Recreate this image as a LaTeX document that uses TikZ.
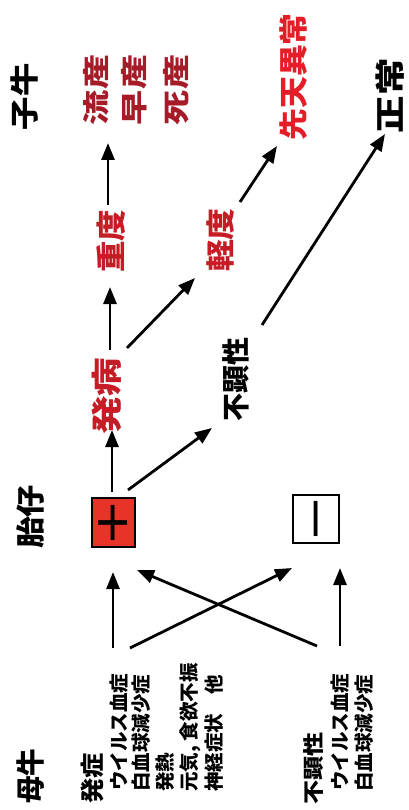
\documentclass[tikz,border=0pt]{standalone}
\usepackage{fontspec}
\usepackage{graphicx}
\usetikzlibrary{arrows.meta}
\newfontfamily\jp{Noto Sans CJK JP}
\newfontfamily\symf{DejaVu Sans}
\definecolor{dred}{RGB}{165,28,40}
\definecolor{bred}{RGB}{228,30,40}
\definecolor{mred}{RGB}{198,28,38}
\definecolor{boxred}{RGB}{232,52,40}
\newcommand{\fs}[1]{\fontsize{#1}{#1}\selectfont}
\newcommand{\hs}[2]{\scalebox{#1}[1]{#2}}
\begin{document}
\begin{tikzpicture}[x=1pt,y=-1pt,
  lbl/.style={rotate=90, inner sep=0pt, font=\jp\bfseries},
  sml/.style={lbl, anchor=west},
  arr/.style={line width=2.8pt, -{Triangle[length=17pt,width=13pt]}},
  signbox/.style={draw, line width=1.3pt, inner sep=0pt},
  ]
\useasboundingbox (0,0) rectangle (409,810);
\fill[white] (0,0) rectangle (409,810);

% column labels
\node[lbl] (kogyu) at (25,97) {\fs{29}\hs{1.15}{子牛}};
\node[lbl] (taishi) at (30,517) {\fs{29}\hs{1.1}{胎仔}};
\node[lbl] (bogyu) at (31,776) {\fs{29}\hs{0.95}{母牛}};

% outcomes
\node[lbl, text=dred] (ryuzan) at (96,90) {\fs{27}\hs{1.3}{流産}};
\node[lbl, text=dred] (sozan) at (134,90) {\fs{27}\hs{1.3}{早産}};
\node[lbl, text=dred] (shizan) at (176,90) {\fs{27}\hs{1.3}{死産}};
\node[lbl, text=bred] (senten) at (294,77) {\fs{29}\hs{1.1}{先天異常}};
\node[lbl] (seijo) at (390,96) {\fs{30}\hs{1.25}{正常}};

\node[lbl, text=mred] (judo) at (111,241) {\fs{30}\hs{1.05}{重度}};
\node[lbl, text=mred] (keido) at (221,240) {\fs{29}\hs{1.1}{軽度}};
\node[lbl, text=mred] (hatsubyo) at (107,396) {\fs{31}\hs{1.25}{発病}};
\node[lbl] (fuken) at (236,379) {\fs{28}\hs{1.0}{不顕性}};

% foetus boxes
\node[signbox, fill=boxred, minimum width=43pt, minimum height=49pt] (plus) at (113.5,522.5) {};
\node[signbox, fill=white, minimum width=46pt, minimum height=48pt] (minus) at (316,519) {};
\node[rotate=90, inner sep=0pt] (plussign) at (plus.center) {\symf\fs{46}\hs{1.22}{+}};
\node[rotate=90, inner sep=0pt, anchor=base] (minussign) at ([shift={(14,0)}]minus.center) {\symf\fs{46}\hs{1.22}{−}};

% mother symptoms
\node[sml] (m1) at (92.5,804) {\fs{24}\hs{1.05}{発症}};
\node[sml] (m2) at (119,791) {\fs{19.5}ウイルス血症};
\node[sml] (m3) at (141,792) {\fs{19.5}白血球減少症};
\node[sml] (m4) at (165.5,792) {\fs{19.5}発熱};
\node[sml] (m5) at (190,792) {\fs{19.5}元気, 食欲不振};
\node[sml] (m6) at (214,792) {\fs{19.5}神経症状　他};
\node[sml] (n1) at (314,805) {\fs{21}\hs{1.15}{不顕性}};
\node[sml] (n2) at (340,791) {\fs{19.5}ウイルス血症};
\node[sml] (n3) at (364,792) {\fs{19.5}白血球減少症};

% arrow tails on the mother side
\coordinate (t1) at (113,648);
\coordinate (t2) at (130,648);
\coordinate (t3) at (317,646);
\coordinate (t4) at (340,646);

\draw[arr] (t1) -- ([shift={(-0.5,49.5)}]plus.center);
\draw[arr] (t2) -- ([shift={(-24,49)}]minus.center);
\draw[arr] (t3) -- ([shift={(23.5,47.5)}]plus.center);
\draw[arr] (t4) -- ([shift={(24,49)}]minus.center);

\draw[arr] ([shift={(-1.5,-30.5)}]plus.center) -- ([shift={(5,34)}]hatsubyo.center);
\draw[arr] ([shift={(14.5,-32.5)}]plus.center) -- ([shift={(-24,49)}]fuken.center);
\draw[arr] ([shift={(3,-46)}]hatsubyo.center) -- ([shift={(-1,46)}]judo.center);
\draw[arr] ([shift={(20,-48)}]hatsubyo.center) -- ([shift={(-26,38)}]keido.center);
\draw[arr] ([shift={(-3,-36)}]judo.center) -- ([shift={(12,53)}]ryuzan.center);
\draw[arr] ([shift={(19,-38)}]keido.center) -- ([shift={(-17,69)}]senten.center);
\draw[arr] ([shift={(26,-54)}]fuken.center) -- ([shift={(-5,38)}]seijo.center);
\end{tikzpicture}
\end{document}
